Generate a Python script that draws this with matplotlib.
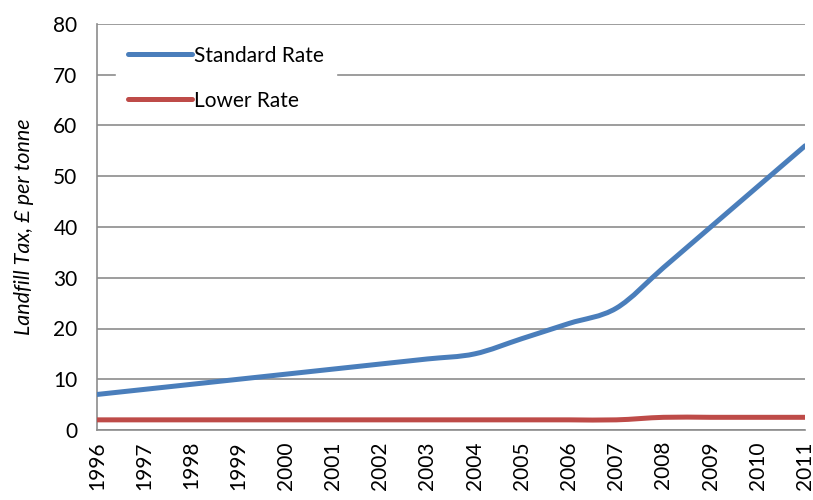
import numpy as np
import matplotlib
matplotlib.use("Agg")
import matplotlib.pyplot as plt
from matplotlib.path import Path
from matplotlib.patches import PathPatch
from matplotlib.lines import Line2D

years = [1996, 1997, 1998, 1999, 2000, 2001, 2002, 2003,
         2004, 2005, 2006, 2007, 2008, 2009, 2010, 2011]
standard_rate = [7, 8, 9, 10, 11, 12, 13, 14, 15, 18, 21, 24, 32, 40, 48, 56]
lower_rate = [2, 2, 2, 2, 2, 2, 2, 2, 2, 2, 2, 2, 2.5, 2.5, 2.5, 2.5]

BLUE = "#4A7EBB"
RED = "#BE4B48"

plt.rcParams["font.family"] = ["Lato", "DejaVu Sans"]


def smooth_path(x, y):
    # cubic Bezier through every point, spreadsheet-style smoothing
    x = np.asarray(x, float)
    y = np.asarray(y, float)
    n = len(x)
    verts = [(x[0], y[0])]
    codes = [Path.MOVETO]
    for i in range(n - 1):
        x0, y0 = (x[i - 1], y[i - 1]) if i > 0 else (x[i], y[i])
        x3, y3 = (x[i + 2], y[i + 2]) if i + 2 < n else (x[i + 1], y[i + 1])
        c1 = (x[i] + (x[i + 1] - x0) / 6, y[i] + (y[i + 1] - y0) / 6)
        c2 = (x[i + 1] - (x3 - x[i]) / 6, y[i + 1] - (y3 - y[i]) / 6)
        verts += [c1, c2, (x[i + 1], y[i + 1])]
        codes += [Path.CURVE4] * 3
    return Path(verts, codes)


fig = plt.figure(figsize=(8.13, 5.0), dpi=100)
ax = fig.add_axes([0.1193, 0.14, 0.871, 0.812])

pos = np.arange(len(years))
for vals, col in [(standard_rate, BLUE), (lower_rate, RED)]:
    patch = PathPatch(smooth_path(pos, vals), facecolor="none", edgecolor=col,
                      lw=3.6, capstyle="round", joinstyle="round", zorder=3)
    ax.add_patch(patch)

ax.set_xlim(0, len(years) - 1)
ax.set_ylim(0, 80)
ax.set_yticks(range(0, 81, 10))
ax.set_xticks(pos)
ax.set_xticklabels([str(y) for y in years], rotation=90)
ax.tick_params(length=0, labelsize=15, pad=8)
ax.tick_params(axis="y", pad=14)

ax.yaxis.grid(True, color="#8C8C8C", lw=1.2)
ax.set_axisbelow(True)
for side in ["top", "right"]:
    ax.spines[side].set_visible(False)
for side in ["left", "bottom"]:
    ax.spines[side].set_color("#8C8C8C")
    ax.spines[side].set_linewidth(1.2)

ax.set_ylabel("Landfill Tax, £ per tonne", fontsize=15.5, style="italic", labelpad=14)

handles = [Line2D([], [], color=BLUE, lw=3.6, solid_capstyle="round"),
           Line2D([], [], color=RED, lw=3.6, solid_capstyle="round")]
leg = ax.legend(handles, ["Standard Rate", "Lower Rate"], loc="upper left",
                bbox_to_anchor=(0.027, 0.975), frameon=True, fontsize=15,
                handlelength=3.1, handletextpad=0.1, labelspacing=1.2,
                borderpad=0.55, borderaxespad=0, fancybox=False)
leg.get_frame().set_edgecolor("white")
leg.get_frame().set_facecolor("white")
leg.get_frame().set_alpha(1)

fig.savefig("out.png", dpi=100)
